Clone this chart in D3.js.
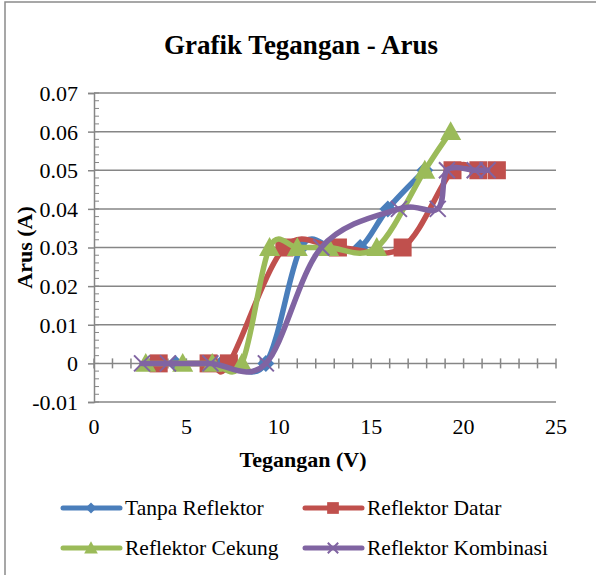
<!DOCTYPE html>
<html>
<head>
<meta charset="utf-8">
<script src="https://cdn.jsdelivr.net/npm/d3@7"></script>
<style>
  body { margin: 0; background: #fff; }
  text { font-family: "Liberation Serif", "Times New Roman", serif; fill: #000; }
</style>
</head>
<body>
<div id="chart"></div>
<script>
// Chart data (voltage V, current A)
const seriesNames = ["Tanpa Reflektor", "Reflektor Datar", "Reflektor Cekung", "Reflektor Kombinasi"];
const seriesColors = ["#4a7ebb", "#c0504d", "#9bbb59", "#8064a2"];
const markerTypes = ["diamond", "square", "triangle", "cross"];

const tanpaReflektor = [[4.4, 0], [6.9, 0], [9.3, 0], [11.2, 0.03], [12.9, 0.03], [14.4, 0.03], [15.9, 0.04], [17.9, 0.05]];
const reflektorDatar = [[3.5, 0], [6.2, 0], [7.3, 0], [10.3, 0.03], [13.2, 0.03], [16.7, 0.03], [19.4, 0.05], [20.8, 0.05], [21.8, 0.05]];
const reflektorCekung = [[2.8, 0], [4.8, 0], [6.4, 0], [8.0, 0], [9.5, 0.03], [11.0, 0.03], [12.7, 0.03], [15.3, 0.03], [17.9, 0.05], [19.3, 0.06]];
const reflektorKombinasi = [[2.6, 0], [4.0, 0], [6.3, 0], [9.3, 0], [12.3, 0.03], [16.5, 0.04], [18.6, 0.04], [19.1, 0.05], [20.6, 0.05], [21.3, 0.05]];
const allSeries = [tanpaReflektor, reflektorDatar, reflektorCekung, reflektorKombinasi];

const xTicks = [0, 5, 10, 15, 20, 25];
const yTicks = [-0.01, 0, 0.01, 0.02, 0.03, 0.04, 0.05, 0.06, 0.07];

const width = 596, height = 575;
const svg = d3.select("#chart").append("svg").attr("width", width).attr("height", height);

// outer chart frame
svg.append("rect").attr("x", 5).attr("y", 2).attr("width", 600).attr("height", 600)
    .attr("fill", "none").attr("stroke", "#8a8a8a").attr("stroke-width", 1.5);

const x = d3.scaleLinear().domain([0, 25]).range([94, 556]);
const y = d3.scaleLinear().domain([-0.01, 0.07]).range([402, 93]);

// title
svg.append("text").attr("x", 301).attr("y", 54).attr("text-anchor", "middle")
    .style("font-size", "27px").style("font-weight", "bold").text("Grafik Tegangan - Arus");

// horizontal gridlines
svg.append("g").selectAll("line").data(yTicks).join("line")
    .attr("x1", x(0)).attr("x2", x(25)).attr("y1", d => y(d)).attr("y2", d => y(d))
    .attr("stroke", "#868686").attr("stroke-width", 1.5);

// y axis with minor ticks inside
const yAxis = svg.append("g").attr("transform", `translate(${x(0)},0)`)
    .call(d3.axisLeft(y).tickValues(yTicks).tickSize(6).tickPadding(10)
        .tickFormat(d => d === 0 ? "0" : d3.format(".2f")(d).replace("−", "-")));
yAxis.select(".domain").attr("stroke", "#868686").attr("stroke-width", 1.5);
yAxis.selectAll(".tick line").attr("stroke", "#868686").attr("stroke-width", 1.5);
yAxis.selectAll("text").style("font-size", "22px").style("font-family", "Liberation Serif").attr("dy", "0.34em");
const yMinor = d3.range(-0.01, 0.0701, 0.002);
svg.append("g").selectAll("line").data(yMinor).join("line")
    .attr("x1", x(0)).attr("x2", x(0) + 5).attr("y1", d => y(d)).attr("y2", d => y(d))
    .attr("stroke", "#868686").attr("stroke-width", 1);

// x axis sits at y = 0, ticks cross the line
const xMinor = d3.range(0, 26, 1);
svg.append("g").selectAll("line").data(xMinor).join("line")
    .attr("x1", d => x(d)).attr("x2", d => x(d)).attr("y1", y(0) - 5).attr("y2", y(0) + 5)
    .attr("stroke", "#868686").attr("stroke-width", 1.5);

// x tick labels below the plot
svg.append("g").selectAll("text").data(xTicks).join("text")
    .attr("x", d => x(d)).attr("y", 434).attr("text-anchor", "middle")
    .style("font-size", "22px").text(d => d);

// axis titles
svg.append("text").attr("x", 303).attr("y", 467).attr("text-anchor", "middle")
    .style("font-size", "22px").style("font-weight", "bold").text("Tegangan (V)");
svg.append("text").attr("transform", `translate(32,${y(0.03)}) rotate(-90)`).attr("text-anchor", "middle")
    .style("font-size", "22px").style("font-weight", "bold").text("Arus (A)");

// marker drawing
function drawMarker(g, type, color, cx, cy, scale = 1) {
    if (type === "diamond") {
        const s = 8.5 * scale;
        g.append("path").attr("d", `M${cx},${cy - s}L${cx + s},${cy}L${cx},${cy + s}L${cx - s},${cy}Z`).attr("fill", color);
    } else if (type === "square") {
        const s = 9 * scale;
        g.append("rect").attr("x", cx - s).attr("y", cy - s).attr("width", 2 * s).attr("height", 2 * s).attr("fill", color);
    } else if (type === "triangle") {
        const s = 10.5 * scale;
        g.append("path").attr("d", `M${cx},${cy - s}L${cx + s},${cy + s * 0.8}L${cx - s},${cy + s * 0.8}Z`).attr("fill", color);
    } else {
        const s = 8 * scale;
        g.append("path").attr("d", `M${cx - s},${cy - s}L${cx + s},${cy + s}M${cx + s},${cy - s}L${cx - s},${cy + s}`)
            .attr("stroke", color).attr("stroke-width", 2).attr("fill", "none");
    }
}

const line = d3.line().x(d => x(d[0])).y(d => y(d[1])).curve(d3.curveCardinal.tension(0));

allSeries.forEach((data, i) => {
    const g = svg.append("g");
    g.append("path").datum(data).attr("d", line).attr("fill", "none")
        .attr("stroke", seriesColors[i]).attr("stroke-width", 5.5).attr("stroke-linecap", "round");
    data.forEach(d => drawMarker(g, markerTypes[i], seriesColors[i], x(d[0]), y(d[1])));
});

// legend
const legendPos = [[63, 508], [305, 508], [63, 548], [305, 548]];
seriesNames.forEach((name, i) => {
    const [lx, ly] = legendPos[i];
    const g = svg.append("g");
    g.append("line").attr("x1", lx).attr("x2", lx + 57).attr("y1", ly).attr("y2", ly)
        .attr("stroke", seriesColors[i]).attr("stroke-width", 5).attr("stroke-linecap", "round");
    drawMarker(g, markerTypes[i], seriesColors[i], lx + 28, ly, 0.65);
    g.append("text").attr("x", lx + 62).attr("y", ly + 7).style("font-size", "21.5px").text(name);
});
</script>
</body>
</html>
